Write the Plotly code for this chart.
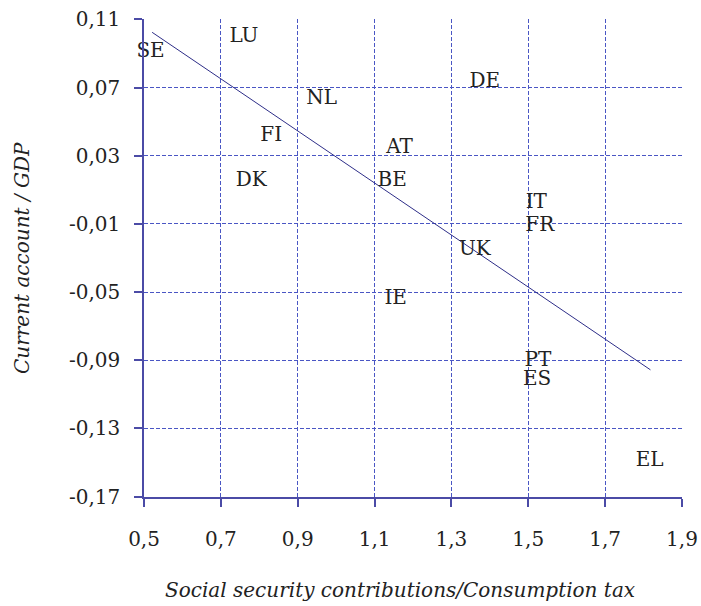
import plotly.graph_objects as go

countries = ["SE", "LU", "NL", "FI", "DK", "DE", "AT", "BE", "IT", "FR", "UK", "IE", "PT", "ES", "EL"]
ssc_ratio = [0.517, 0.760, 0.962, 0.831, 0.779, 1.387, 1.165, 1.146, 1.521, 1.530, 1.361, 1.155, 1.525, 1.523, 1.816]
ca_gdp = [0.0907, 0.0995, 0.0631, 0.0416, 0.0153, 0.0734, 0.0344, 0.0153, 0.0022, -0.0111, -0.0251, -0.0538, -0.0902, -0.1013, -0.1492]

trend_x = [0.521, 1.818]
trend_y = [0.1024, -0.0956]

x_ticks = [0.5, 0.7, 0.9, 1.1, 1.3, 1.5, 1.7, 1.9]
x_tick_labels = ["0,5", "0,7", "0,9", "1,1", "1,3", "1,5", "1,7", "1,9"]
y_ticks = [0.11, 0.07, 0.03, -0.01, -0.05, -0.09, -0.13, -0.17]
y_tick_labels = ["0,11", "0,07", "0,03", "-0,01", "-0,05", "-0,09", "-0,13", "-0,17"]

FONT = "DejaVu Serif"
AXIS_COLOR = "#4b4ba6"
GRID_COLOR = "#4a56c4"
TEXT_COLOR = "#222222"

# plot area target: x 144..682, y 19..497
PLOT_W = 538
PLOT_H = 478

fig = go.Figure()
fig.add_trace(go.Scatter(
    x=trend_x, y=trend_y, mode="lines",
    line=dict(color="#2e2e88", width=1), hoverinfo="skip", showlegend=False,
))
fig.add_trace(go.Scatter(
    x=ssc_ratio, y=ca_gdp, mode="text", text=countries,
    textposition="middle center", cliponaxis=False,
    textfont=dict(family=FONT, size=20, color=TEXT_COLOR),
    showlegend=False,
))

fig.update_layout(
    width=701, height=606,
    margin=dict(l=144, r=19, t=19, b=109, autoexpand=False),
    paper_bgcolor="white", plot_bgcolor="white",
    font=dict(family=FONT, size=20, color=TEXT_COLOR),
    xaxis=dict(
        range=[0.4999, 1.9001], tickvals=x_ticks, ticktext=x_tick_labels,
        showline=True, linecolor=AXIS_COLOR, linewidth=1.5,
        ticks="outside", ticklen=8, tickcolor=AXIS_COLOR, tickwidth=1.5,
        showgrid=True, gridcolor=GRID_COLOR, griddash="4px,2px", gridwidth=1,
        zeroline=False, automargin=False, ticklabelstandoff=15,
        tickfont=dict(family=FONT, size=20, color=TEXT_COLOR),
    ),
    yaxis=dict(
        range=[-0.1702, 0.1102], tickvals=y_ticks, ticktext=y_tick_labels,
        showline=True, linecolor=AXIS_COLOR, linewidth=1.5,
        ticks="outside", ticklen=8, tickcolor=AXIS_COLOR, tickwidth=1.5,
        showgrid=True, gridcolor=GRID_COLOR, griddash="4px,2px", gridwidth=1,
        zeroline=False, automargin=False, ticklabelstandoff=10,
        tickfont=dict(family=FONT, size=20, color=TEXT_COLOR),
    ),
    annotations=[
        dict(text="<i>Social security contributions/Consumption tax</i>",
             xref="paper", yref="paper", x=(400 - 144) / PLOT_W, y=-(590 - 497) / PLOT_H,
             xanchor="center", yanchor="middle", showarrow=False,
             font=dict(family=FONT, size=20, color=TEXT_COLOR)),
        dict(text="<i>Current account / GDP</i>",
             xref="paper", yref="paper", x=-(144 - 22) / PLOT_W, y=(497 - 258) / PLOT_H,
             xanchor="center", yanchor="middle", showarrow=False, textangle=-90,
             font=dict(family=FONT, size=20, color=TEXT_COLOR)),
    ],
)

fig.write_html("out.html", config={"displayModeBar": False},
               post_script="document.body.style.margin='0';")
